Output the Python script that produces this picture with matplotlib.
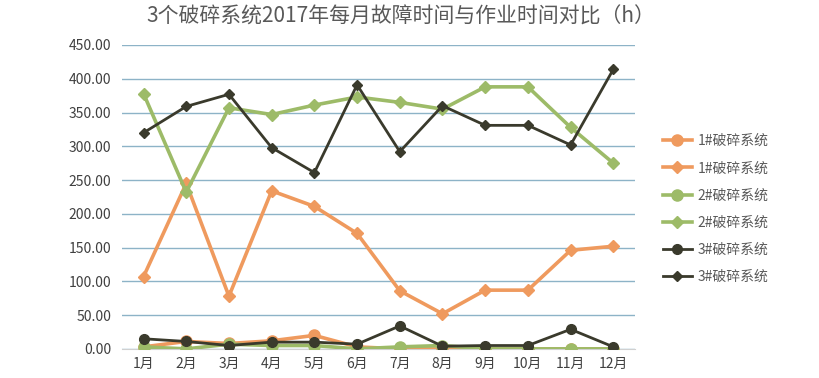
import matplotlib
matplotlib.use("Agg")
import matplotlib.pyplot as plt

plt.rcParams['font.family'] = ['Noto Sans CJK SC', 'DejaVu Sans']

months = ["1月", "2月", "3月", "4月", "5月", "6月", "7月", "8月", "9月", "10月", "11月", "12月"]

# 故障时间 (circle) / 作业时间 (diamond)
s1_fault = [3, 11, 8, 12, 20, 3, 0, 0, 0, 0, 0, 0]
s1_work = [107, 245, 78, 234, 211, 171, 86, 52, 87, 87, 146, 152]
s2_fault = [3, 0, 7, 5, 5, 0, 3, 5, 0, 0, 0, 0]
s2_work = [378, 232, 357, 347, 361, 373, 365, 355, 388, 388, 328, 275]
s3_fault = [15, 11, 5, 10, 10, 7, 34, 4, 5, 5, 29, 3]
s3_work = [320, 359, 377, 298, 261, 391, 292, 360, 331, 331, 302, 414]

labels = ["1#破碎系统", "1#破碎系统", "2#破碎系统", "2#破碎系统", "3#破碎系统", "3#破碎系统"]

orange = "#EF9A5E"
green = "#9DBB68"
dark = "#3A3A2C"

fig = plt.figure(figsize=(8.2, 3.78), dpi=100)
ax = fig.add_axes([0.149, 0.077, 0.625, 0.804])
x = list(range(len(months)))

ax.plot(x, s1_fault, color=orange, lw=2.6, marker='o', ms=8, label=labels[0], zorder=3)
ax.plot(x, s1_work, color=orange, lw=2.6, marker='D', ms=6, label=labels[1], zorder=3)
ax.plot(x, s2_fault, color=green, lw=2.6, marker='o', ms=8, label=labels[2], zorder=3)
ax.plot(x, s2_work, color=green, lw=2.6, marker='D', ms=6, label=labels[3], zorder=3)
ax.plot(x, s3_fault, color=dark, lw=2.0, marker='o', ms=7, label=labels[4], zorder=4)
ax.plot(x, s3_work, color=dark, lw=2.0, marker='D', ms=5, label=labels[5], zorder=4)

ax.set_xlim(-0.5, 11.5)
ax.set_ylim(0, 450)
ax.set_yticks(range(0, 451, 50))
ax.set_yticklabels(["%.2f" % v for v in range(0, 451, 50)])
ax.set_xticks(x)
ax.set_xticklabels(months)
ax.grid(axis='y', color="#8DB3C7", lw=1.0)
ax.set_axisbelow(True)
for side in ['top', 'right', 'left']:
    ax.spines[side].set_visible(False)
ax.spines['bottom'].set_color("#D0D0D0")
ax.tick_params(axis='y', length=0, labelsize=10, colors="#404040", pad=8)
ax.tick_params(axis='x', length=0, labelsize=10, colors="#404040", pad=6)

fig.suptitle("3个破碎系统2017年每月故障时间与作业时间对比（h）", x=0.489, y=0.985,
             fontsize=15, color="#595959")

ax.legend(loc='center left', bbox_to_anchor=(1.03, 0.46), frameon=False,
          fontsize=10, labelcolor="#595959", handlelength=2.1, handletextpad=0.4,
          labelspacing=0.95)

fig.savefig("out.png", dpi=100)
